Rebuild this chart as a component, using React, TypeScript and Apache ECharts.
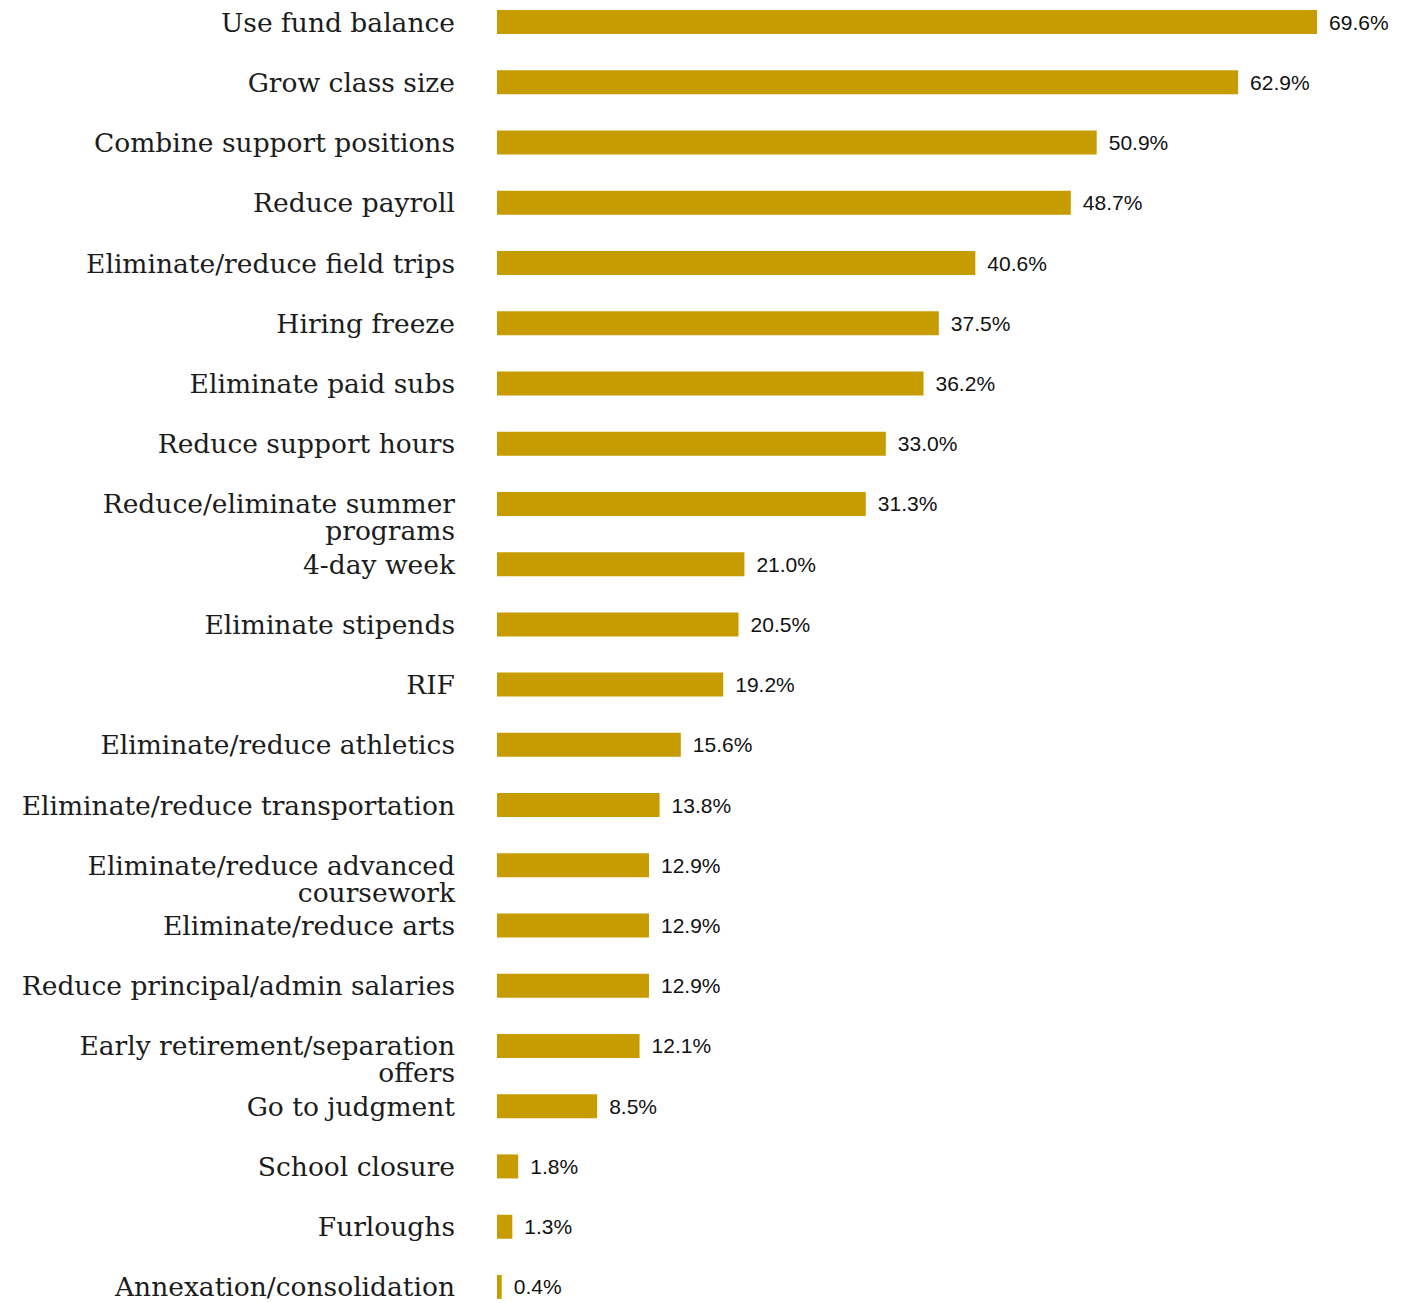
import React, { useEffect, useRef } from "react";
import * as echarts from "echarts";

const categories: string[] = [
  "Use fund balance",
  "Grow class size",
  "Combine support positions",
  "Reduce payroll",
  "Eliminate/reduce field trips",
  "Hiring freeze",
  "Eliminate paid subs",
  "Reduce support hours",
  "Reduce/eliminate summer\nprograms",
  "4-day week",
  "Eliminate stipends",
  "RIF",
  "Eliminate/reduce athletics",
  "Eliminate/reduce transportation",
  "Eliminate/reduce advanced\ncoursework",
  "Eliminate/reduce arts",
  "Reduce principal/admin salaries",
  "Early retirement/separation\noffers",
  "Go to judgment",
  "School closure",
  "Furloughs",
  "Annexation/consolidation",
];

const values: number[] = [
  69.6, 62.9, 50.9, 48.7, 40.6, 37.5, 36.2, 33.0, 31.3, 21.0, 20.5, 19.2, 15.6, 13.8,
  12.9, 12.9, 12.9, 12.1, 8.5, 1.8, 1.3, 0.4,
];

export default function App() {
  const ref = useRef<HTMLDivElement>(null);
  useEffect(() => {
    if (!ref.current) return;
    const chart = echarts.init(ref.current, undefined, { renderer: "svg" });
    chart.setOption({
      animation: false,
      grid: { left: 497, right: 20, top: 0, bottom: 0, containLabel: false },
      xAxis: {
        type: "value",
        min: 0,
        max: 75.2,
        show: false,
      },
      yAxis: {
        type: "category",
        inverse: true,
        data: categories,
        axisLine: { show: false },
        axisTick: { show: false },
        splitLine: { show: false },
        axisLabel: {
          margin: 42,
          fontFamily: "DejaVu Serif",
          fontSize: 26.5,
          color: "#1c1c1c",
          lineHeight: 27,
          formatter: (v: string) => (v.indexOf("\n") >= 0 ? "\n" + v : v),
        },
      },
      series: [
        {
          type: "bar",
          data: values,
          barWidth: 24,
          itemStyle: { color: "#C69C00" },
          label: {
            show: true,
            position: "right",
            distance: 12,
            fontFamily: "Liberation Sans, Arial, sans-serif",
            fontSize: 21,
            color: "#111",
            formatter: (p: any) => p.value.toFixed(1) + "%",
          },
        },
      ],
    });
    return () => chart.dispose();
  }, []);
  return (
    <div
      style={{
        position: "absolute",
        left: 0,
        top: 0,
        width: 1403,
        height: 1303,
        overflow: "hidden",
      }}
    >
      <div
        ref={ref}
        style={{ position: "absolute", left: 0, top: -8, width: 1403, height: 1325 }}
      />
    </div>
  );
}
